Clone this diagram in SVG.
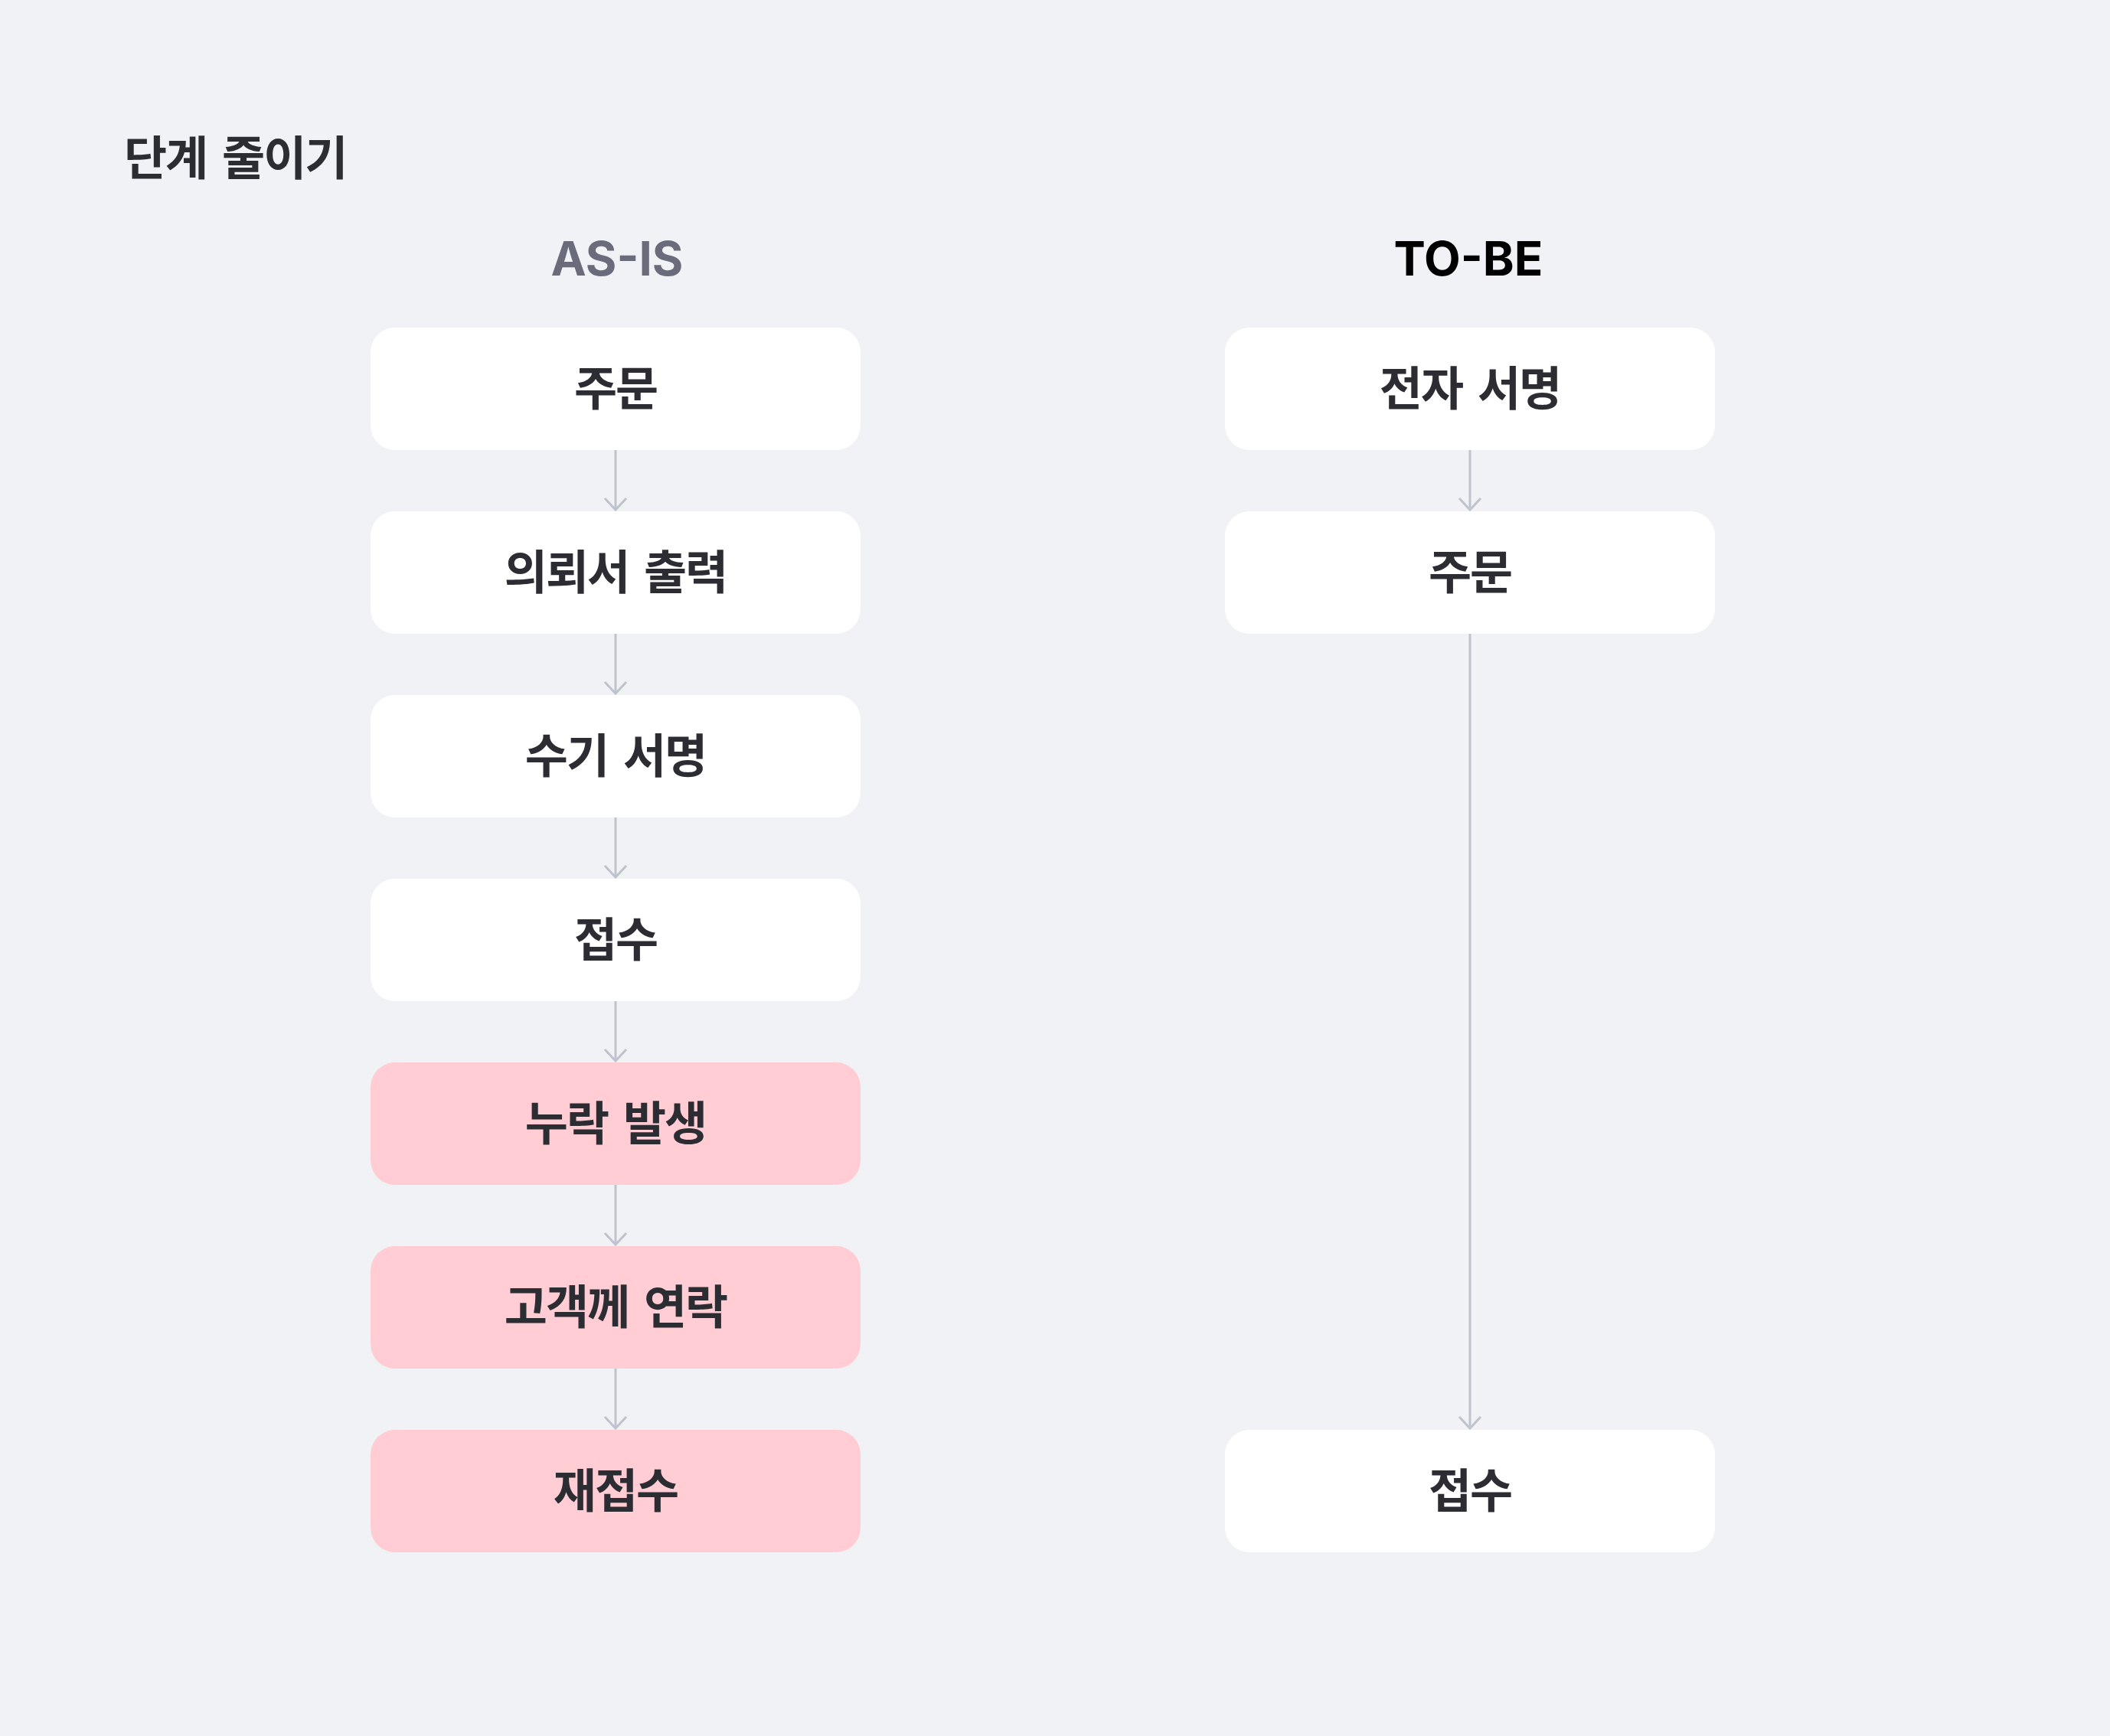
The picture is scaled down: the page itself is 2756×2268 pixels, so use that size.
<svg xmlns="http://www.w3.org/2000/svg" width="2756" height="2268" viewBox="0 0 2756 2268">
<defs>
<style>
.bg{fill:#F0F2F6}
.box{fill:#FFFFFF}
.warn{fill:#FFCDD3}
.lbl{font-family:"Noto Sans CJK KR","Noto Sans",sans-serif;font-weight:700;font-size:61px;fill:#2B2D33;text-anchor:middle;letter-spacing:-2px;word-spacing:8px}
.title{font-family:"Noto Sans CJK KR","Noto Sans",sans-serif;font-weight:700;font-size:61px;fill:#2B2D33;letter-spacing:-2px;word-spacing:8px}
.head{font-family:Inter,"Liberation Sans",sans-serif;font-weight:700;font-size:62px;text-anchor:middle}
.conn{stroke:#BFC3CC;stroke-width:3;fill:none}
</style>
<marker id="arr" viewBox="0 0 20 32" refX="17" refY="16" markerWidth="20" markerHeight="32" markerUnits="userSpaceOnUse" orient="auto">
<path d="M2,2 L17,16 L2,30" fill="none" stroke="#BFC3CC" stroke-width="3"/>
</marker>
</defs>
<rect class="bg" x="0" y="0" width="2756" height="2268"/>
<text class="title" x="162" y="229">단계 줄이기</text>
<text class="head" x="806" y="360" fill="#6B6C7B">AS-IS</text>
<text class="head" x="1918" y="360" fill="#000000">TO-BE</text>
<g id="connectors">
<line class="conn" x1="804" y1="588" x2="804" y2="666" marker-end="url(#arr)"/>
<line class="conn" x1="804" y1="828" x2="804" y2="906" marker-end="url(#arr)"/>
<line class="conn" x1="804" y1="1068" x2="804" y2="1146" marker-end="url(#arr)"/>
<line class="conn" x1="804" y1="1308" x2="804" y2="1386" marker-end="url(#arr)"/>
<line class="conn" x1="804" y1="1548" x2="804" y2="1626" marker-end="url(#arr)"/>
<line class="conn" x1="804" y1="1788" x2="804" y2="1866" marker-end="url(#arr)"/>
<line class="conn" x1="1920" y1="588" x2="1920" y2="666" marker-end="url(#arr)"/>
<line class="conn" x1="1920" y1="828" x2="1920" y2="1866" marker-end="url(#arr)"/>
</g>
<g id="asis-1"><rect class="box" x="484" y="428" width="640" height="160" rx="32"/><text class="lbl" x="804" y="530">주문</text></g>
<g id="asis-2"><rect class="box" x="484" y="668" width="640" height="160" rx="32"/><text class="lbl" x="804" y="770">의뢰서 출력</text></g>
<g id="asis-3"><rect class="box" x="484" y="908" width="640" height="160" rx="32"/><text class="lbl" x="804" y="1010">수기 서명</text></g>
<g id="asis-4"><rect class="box" x="484" y="1148" width="640" height="160" rx="32"/><text class="lbl" x="804" y="1250">접수</text></g>
<g id="asis-5"><rect class="warn" x="484" y="1388" width="640" height="160" rx="32"/><text class="lbl" x="804" y="1490">누락 발생</text></g>
<g id="asis-6"><rect class="warn" x="484" y="1628" width="640" height="160" rx="32"/><text class="lbl" x="804" y="1730">고객께 연락</text></g>
<g id="asis-7"><rect class="warn" x="484" y="1868" width="640" height="160" rx="32"/><text class="lbl" x="804" y="1970">재접수</text></g>
<g id="tobe-1"><rect class="box" x="1600" y="428" width="640" height="160" rx="32"/><text class="lbl" x="1920" y="530">전자 서명</text></g>
<g id="tobe-2"><rect class="box" x="1600" y="668" width="640" height="160" rx="32"/><text class="lbl" x="1920" y="770">주문</text></g>
<g id="tobe-3"><rect class="box" x="1600" y="1868" width="640" height="160" rx="32"/><text class="lbl" x="1920" y="1970">접수</text></g>
</svg>
